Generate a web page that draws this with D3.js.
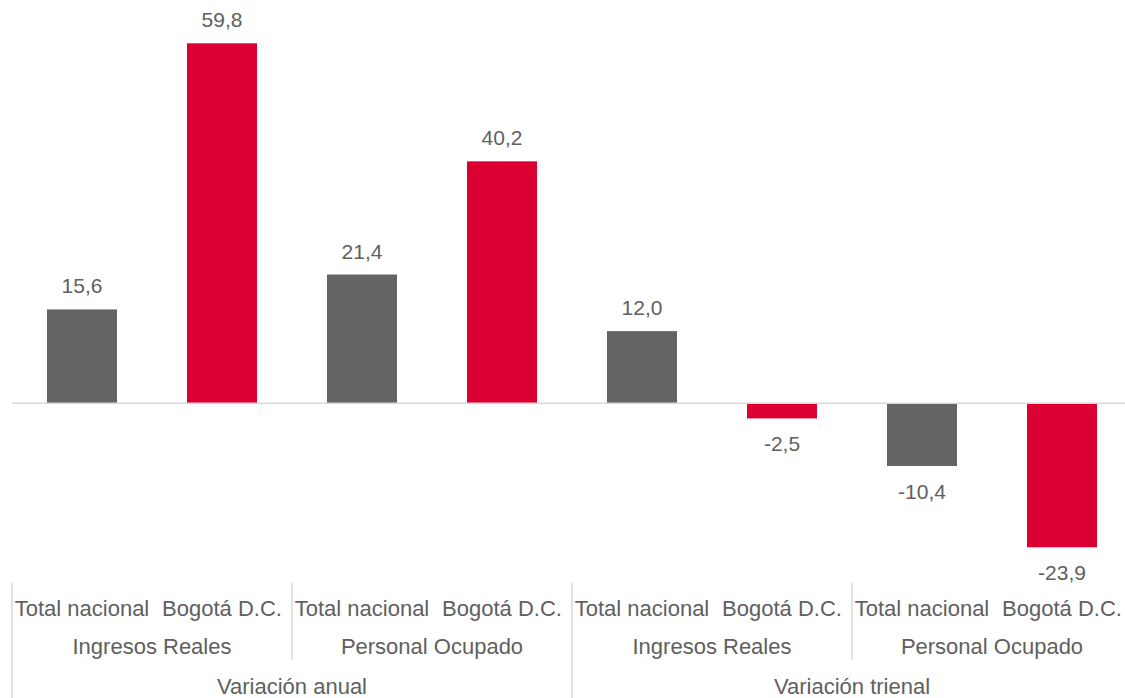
<!DOCTYPE html>
<html><head><meta charset="utf-8">
<script src="https://cdn.jsdelivr.net/npm/d3@7"></script>
<style>body{margin:0;background:#fff;}svg{display:block;}</style>
</head><body>
<svg id="chart" width="1125" height="698"></svg>
<script>
const categories = ["Total nacional","Bogotá D.C.","Total nacional","Bogotá D.C.","Total nacional","Bogotá D.C.","Total nacional","Bogotá D.C."];
const values = [15.6, 59.8, 21.4, 40.2, 12.0, -2.5, -10.4, -23.9];
const subGroups = ["Ingresos Reales","Personal Ocupado","Ingresos Reales","Personal Ocupado"];
const groups = ["Variación anual","Variación trienal"];
const seriesColors = ["#646464","#dc0032"];

const svg = d3.select("#chart");
const font = "'Liberation Sans', Arial, sans-serif";
const textColor = "#606060";
const idx = d3.range(values.length);

const x = d3.scaleBand().domain(idx).range([12, 1132]).paddingInner(0.5).paddingOuter(0.25);
const y = d3.scaleLinear().domain([-30, 65]).range([584, 12]);

svg.selectAll("rect.bar").data(idx).join("rect")
  .attr("class","bar")
  .attr("x", i => x(i))
  .attr("width", x.bandwidth())
  .attr("y", i => y(Math.max(0, values[i])))
  .attr("height", i => Math.abs(y(values[i]) - y(0)))
  .attr("fill", i => seriesColors[i % 2]);

// zero line
svg.append("line").attr("x1", 12).attr("x2", 1125).attr("y1", y(0)).attr("y2", y(0))
  .attr("stroke", "#d9d9d9").attr("stroke-width", 1.5);

const fmt = v => d3.format(".1f")(v).replace(".", ",").replace("−","-");
svg.selectAll("text.val").data(idx).join("text")
  .attr("class","val")
  .attr("x", i => x(i) + x.bandwidth()/2)
  .attr("y", i => values[i] >= 0 ? y(values[i]) - 16 : y(values[i]) + 33)
  .attr("text-anchor","middle")
  .attr("font-family", font).attr("font-size", 21).attr("fill", textColor)
  .text(i => fmt(values[i]));

// category labels
const step = x.step();
svg.selectAll("text.cat").data(idx).join("text")
  .attr("class","cat")
  .attr("x", i => x(i) + x.bandwidth()/2)
  .attr("y", 616)
  .attr("text-anchor","middle")
  .attr("font-family", font).attr("font-size", 22).attr("fill", textColor)
  .text(i => categories[i]);

const x0 = 12;
svg.selectAll("text.sub").data(subGroups).join("text")
  .attr("class","sub")
  .attr("x", (d,j) => x0 + step*2*j + step)
  .attr("y", 654)
  .attr("text-anchor","middle")
  .attr("font-family", font).attr("font-size", 22).attr("fill", textColor)
  .text(d => d);

svg.selectAll("text.grp").data(groups).join("text")
  .attr("class","grp")
  .attr("x", (d,j) => x0 + step*4*j + step*2)
  .attr("y", 694)
  .attr("text-anchor","middle")
  .attr("font-family", font).attr("font-size", 22).attr("fill", textColor)
  .text(d => d);

// separators
const seps = d3.range(0, 9, 2);
svg.selectAll("line.sep").data(seps).join("line")
  .attr("class","sep")
  .attr("x1", k => x0 + step*k).attr("x2", k => x0 + step*k)
  .attr("y1", 583).attr("y2", k => k % 4 === 0 ? 698 : 660)
  .attr("stroke", "#d9d9d9").attr("stroke-width", 1.5);
</script>
</body></html>
